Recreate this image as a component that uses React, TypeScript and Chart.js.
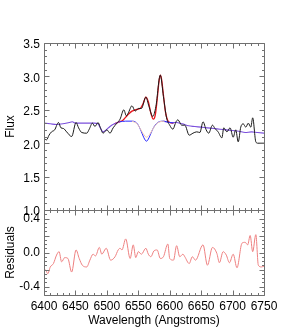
import React, { useEffect, useRef } from "react";
import { Chart, registerables } from "chart.js";
Chart.register(...registerables);

// ---- tick labels ----
const wavelengthTicks = [6400, 6450, 6500, 6550, 6600, 6650, 6700, 6750];
const fluxTicks = [1.0, 1.5, 2.0, 2.5, 3.0, 3.5];
const residualTicks = [-0.4, -0.2, 0.0, 0.2, 0.4];

// ---- observed spectrum (black) ----
const dataWave = [6400, 6404, 6408, 6412, 6417, 6423, 6427, 6431, 6436, 6444, 6451, 6455, 6460, 6468, 6472, 6477, 6481, 6486, 6489, 6494, 6500, 6505, 6510, 6516, 6521, 6527, 6531, 6534, 6540, 6545, 6550, 6555, 6562, 6567, 6573, 6578, 6585, 6590, 6595, 6600, 6605, 6610, 6613, 6619, 6624, 6631, 6637, 6643, 6648, 6653, 6658, 6662, 6668, 6672, 6677, 6683, 6686, 6691, 6696, 6701, 6705, 6709, 6713, 6717, 6721, 6725, 6729, 6732, 6737, 6740, 6750];
const dataFlux = [2.07, 2.05, 2.12, 2.17, 2.20, 2.31, 2.23, 2.22, 2.17, 2.10, 2.31, 2.23, 2.16, 2.15, 2.21, 2.30, 2.25, 2.31, 2.25, 2.15, 2.20, 2.15, 2.23, 2.30, 2.36, 2.50, 2.41, 2.45, 2.56, 2.48, 2.52, 2.52, 2.69, 2.55, 2.40, 2.55, 3.02, 2.70, 2.38, 2.27, 2.21, 2.32, 2.35, 2.27, 2.27, 2.12, 2.15, 2.17, 2.16, 2.32, 2.20, 2.15, 2.27, 2.22, 2.17, 2.08, 2.23, 2.17, 2.23, 2.09, 2.20, 2.02, 2.24, 2.29, 2.24, 2.30, 2.24, 2.38, 2.02, 2.00, 2.00];

// ---- total model (red) ----
const modelWave = [6512, 6520, 6525, 6530, 6535, 6540, 6545, 6550, 6554, 6558, 6562, 6566, 6570, 6574, 6577, 6580, 6583, 6585, 6587, 6590, 6593, 6596, 6600, 6606];
const modelFlux = [2.29, 2.32, 2.34, 2.39, 2.44, 2.48, 2.50, 2.51, 2.53, 2.60, 2.69, 2.62, 2.45, 2.36, 2.42, 2.65, 2.93, 3.02, 2.96, 2.72, 2.48, 2.36, 2.31, 2.30];

// ---- continuum + absorption (blue) ----
const absWave = [6520, 6530, 6540, 6545, 6550, 6555, 6559, 6563, 6567, 6571, 6576, 6581, 6590, 6600, 6606];
const absFlux = [2.32, 2.33, 2.33, 2.32, 2.27, 2.17, 2.08, 2.03, 2.08, 2.17, 2.26, 2.31, 2.33, 2.31, 2.30];

// ---- stellar template (pale) ----
const stellarWave = [6540, 6548, 6553, 6558, 6563, 6568, 6573, 6578, 6584, 6592];
const stellarFlux = [2.33, 2.29, 2.22, 2.14, 2.09, 2.13, 2.21, 2.28, 2.32, 2.33];

// ---- continuum outside the line region (purple) ----
const contLeftWave = [6400, 6410, 6420, 6430, 6440, 6445, 6450, 6460, 6470, 6480, 6486, 6490, 6494, 6499, 6505, 6512, 6520];
const contLeftFlux = [2.30, 2.29, 2.28, 2.29, 2.31, 2.32, 2.30, 2.30, 2.30, 2.30, 2.29, 2.22, 2.17, 2.20, 2.25, 2.29, 2.32];
const contRightWave = [6590, 6600, 6610, 6620, 6630, 6640, 6650, 6660, 6670, 6680, 6690, 6700, 6710, 6720, 6730, 6740, 6750];
const contRightFlux = [2.33, 2.31, 2.31, 2.29, 2.26, 2.25, 2.24, 2.23, 2.22, 2.21, 2.20, 2.19, 2.18, 2.16, 2.17, 2.16, 2.15];

// ---- residuals ----
const residWave = [6400, 6403, 6406, 6410, 6415, 6420, 6424, 6428, 6433, 6438, 6444, 6451, 6456, 6461, 6468, 6473, 6478, 6482, 6488, 6492, 6499, 6506, 6513, 6518, 6521, 6524, 6530, 6537, 6542, 6546, 6550, 6555, 6562, 6566, 6570, 6575, 6580, 6585, 6590, 6597, 6600, 6606, 6611, 6616, 6621, 6624, 6631, 6636, 6641, 6653, 6660, 6668, 6675, 6679, 6685, 6690, 6695, 6701, 6707, 6715, 6720, 6724, 6728, 6732, 6737, 6741, 6746, 6750];
const residValue = [-0.19, -0.21, -0.25, -0.17, -0.13, -0.03, 0.01, -0.11, -0.06, -0.07, -0.23, 0.03, -0.07, -0.15, -0.17, -0.09, -0.02, -0.04, 0.06, -0.02, 0.05, -0.09, -0.05, 0.03, 0.05, 0.03, 0.16, -0.07, 0.09, -0.06, 0.01, -0.02, 0.05, -0.02, -0.05, 0.02, 0.03, -0.07, -0.05, 0.10, -0.07, -0.09, 0.08, -0.05, -0.02, -0.05, -0.13, -0.05, -0.09, 0.09, -0.15, 0.06, -0.01, -0.12, 0.01, -0.03, -0.12, -0.02, -0.18, 0.11, 0.12, 0.09, 0.20, 0.01, 0.21, -0.15, -0.17, -0.16];

const zip = (xs: number[], ys: number[]) => xs.map((x, i) => ({ x, y: ys[i] }));

const FONT = { family: "'Liberation Sans', Arial, sans-serif", size: 12 };

const framePlugin = {
  id: "frame",
  afterDatasetsDraw(chart: any) {
    const { ctx } = chart;
    const xs = chart.scales.x;
    const panels = [
      { s: chart.scales.y, lo: 1.0, hi: 3.5, minor: 0.1, every: 5 },
      { s: chart.scales.y2, lo: -0.5, hi: 0.5, minor: 0.05, every: 4 },
    ];
    const L = Math.round(xs.left) + 0.5;
    const R = Math.round(xs.right) + 0.5;
    ctx.save();
    ctx.strokeStyle = "#707070";
    ctx.lineWidth = 1;
    for (const p of panels) {
      const T = Math.round(p.s.top) + 0.5;
      const B = Math.round(p.s.bottom) + 0.5;
      ctx.beginPath();
      ctx.rect(L, T, R - L, B - T);
      ctx.stroke();
      ctx.beginPath();
      for (let k = 0; k <= 35; k++) {
        const v = 6400 + k * 10;
        const px = Math.round(xs.getPixelForValue(v)) + 0.5;
        const len = k % 5 === 0 ? 5 : 2.5;
        ctx.moveTo(px, T);
        ctx.lineTo(px, T + len);
        ctx.moveTo(px, B);
        ctx.lineTo(px, B - len);
      }
      const n = Math.round((p.hi - p.lo) / p.minor);
      for (let k = 0; k <= n; k++) {
        const v = p.lo + k * p.minor;
        const py = Math.round(p.s.getPixelForValue(v)) + 0.5;
        const isMajor = Math.abs(Math.round(v / (p.minor * p.every)) * p.minor * p.every - v) < 1e-6;
        const len = isMajor ? 5 : 2.5;
        ctx.moveTo(L, py);
        ctx.lineTo(L + len, py);
        ctx.moveTo(R, py);
        ctx.lineTo(R - len, py);
      }
      ctx.stroke();
    }
    ctx.restore();
  },
};

export default function App() {
  const ref = useRef<HTMLCanvasElement | null>(null);
  useEffect(() => {
    if (!ref.current) return;
    const line = (data: any[], color: string, width: number, axis = "y") => ({
      data,
      borderColor: color,
      borderWidth: width,
      pointRadius: 0,
      fill: false,
      cubicInterpolationMode: "monotone" as const,
      yAxisID: axis,
    });
    const chart = new Chart(ref.current, {
      type: "line",
      data: {
        datasets: [
          line(zip(dataWave, dataFlux), "#1a1a1a", 1),
          line(zip(stellarWave, stellarFlux), "#f4c9b0", 1),
          line(zip(absWave, absFlux), "#2b2bff", 1),
          line(zip(contLeftWave, contLeftFlux), "#7b4fdc", 1.1),
          line(zip(contRightWave, contRightFlux), "#7b4fdc", 1.1),
          line(zip(modelWave, modelFlux), "#e8141c", 1.3),
          line(zip(residWave, residValue), "#ee8080", 1, "y2"),
        ],
      },
      options: {
        animation: false,
        responsive: false,
        layout: { padding: { left: 0, right: 30, top: 43, bottom: 0 } },
        plugins: { legend: { display: false }, tooltip: { enabled: false } },
        scales: {
          x: {
            type: "linear",
            min: 6400,
            max: 6750,
            afterBuildTicks: (s: any) => {
              s.ticks = wavelengthTicks.map((v) => ({ value: v }));
            },
            afterFit: (s: any) => {
              s.height = 34;
            },
            grid: { display: false, drawTicks: false },
            border: { display: false },
            ticks: {
              autoSkip: false,
              maxRotation: 0,
              padding: 4,
              color: "#000",
              font: FONT,
              callback: (v: any) => String(v),
            },
            title: {
              display: true,
              text: "Wavelength (Angstroms)",
              color: "#000",
              font: FONT,
              padding: { top: 0, bottom: 1 },
            },
          },
          y: {
            type: "linear",
            position: "left",
            stack: "panels",
            stackWeight: 167,
            weight: 1,
            min: 1.0,
            max: 3.5,
            afterBuildTicks: (s: any) => {
              s.ticks = fluxTicks.map((v) => ({ value: v }));
            },
            afterFit: (s: any) => {
              s.width = 44;
            },
            grid: { display: false, drawTicks: false },
            border: { display: false },
            ticks: {
              padding: 4,
              labelOffset: 2,
              color: "#000",
              font: FONT,
              callback: (v: any) => Number(v).toFixed(1),
            },
            title: { display: true, text: "Flux", color: "#000", font: FONT, padding: { top: 3, bottom: 0 } },
          },
          y2: {
            type: "linear",
            position: "left",
            stack: "panels",
            stackWeight: 85,
            weight: 0,
            min: -0.5,
            max: 0.5,
            afterBuildTicks: (s: any) => {
              s.ticks = residualTicks.map((v) => ({ value: v }));
            },
            afterFit: (s: any) => {
              s.width = 44;
            },
            grid: { display: false, drawTicks: false },
            border: { display: false },
            ticks: {
              padding: 4,
              color: "#000",
              font: FONT,
              callback: (v: any) => Number(v).toFixed(1),
            },
            title: { display: true, text: "Residuals", color: "#000", font: FONT, padding: { top: 3, bottom: 0 } },
          },
        },
      },
      plugins: [framePlugin],
    });
    return () => chart.destroy();
  }, []);
  return (
    <div style={{ position: "fixed", left: 0, top: 0, width: 294, height: 329, background: "#fff" }}>
      <canvas ref={ref} width={294} height={329} style={{ width: 294, height: 329, display: "block" }} />
    </div>
  );
}
